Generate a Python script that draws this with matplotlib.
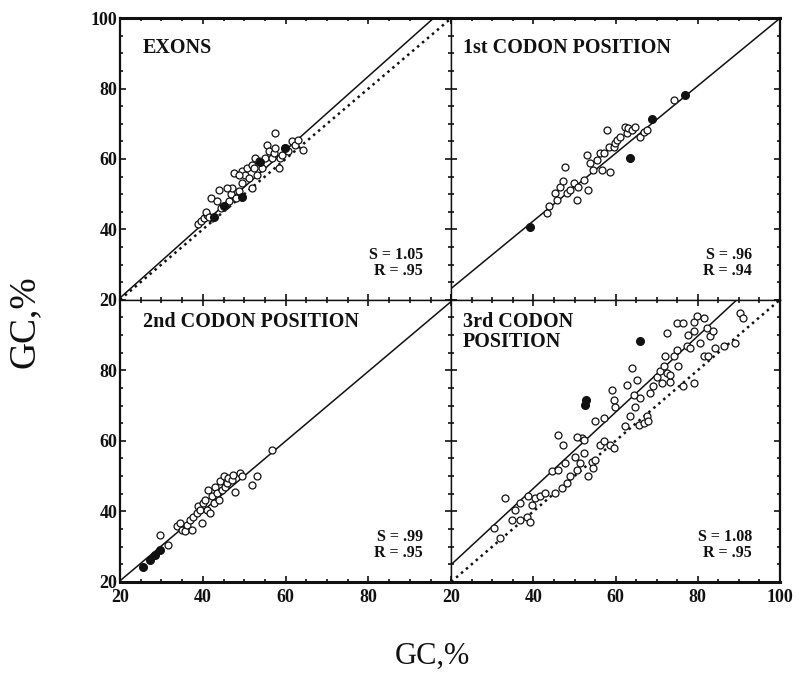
import matplotlib
matplotlib.use("Agg")
import matplotlib.pyplot as plt
from matplotlib.ticker import MultipleLocator
import numpy as np

# ---- data (GC %, x vs y) ----
exons_x = [38.9, 39.5, 40.3, 41.1, 40.7, 42.3, 41.9, 43.9, 44.3, 45.5, 46.3, 46.7, 47.1, 47.5,
           47.9, 48.7, 49.5, 49.5, 50.3, 50.7, 51.1, 51.9, 51.9, 52.7, 53.1, 53.5, 54.3, 55.1,
           55.5, 55.9, 56.7, 57.1, 57.5, 57.5, 58.3, 58.7, 59.1, 59.9, 60.7, 61.5, 62.3, 63.1,
           64.3, 48.7, 45.9, 43.5, 41.5, 52.3]
exons_y = [41.6, 42.5, 43.2, 44.1, 45.0, 43.2, 48.9, 51.3, 46.1, 47.0, 48.0, 49.9, 51.8, 56.0,
           48.9, 50.8, 53.2, 56.5, 55.5, 57.4, 54.6, 58.4, 51.8, 60.3, 55.5, 59.3, 57.4, 60.3,
           64.1, 62.2, 60.3, 61.7, 63.1, 67.4, 57.4, 60.3, 61.2, 63.1, 62.2, 65.0, 64.1, 65.5,
           62.6, 55.5, 51.8, 48.0, 43.6, 57.4]
exons_fx = [42.6, 45.0, 49.4, 53.8, 59.9]
exons_fy = [43.6, 46.5, 49.3, 59.2, 63.0]

pos1_x = [43.3, 43.7, 45.3, 45.7, 46.5, 47.3, 47.7, 48.1, 48.9, 49.8, 50.6, 50.9, 52.2, 53.0,
          53.4, 53.8, 54.6, 55.5, 56.3, 56.7, 57.1, 57.9, 58.3, 58.7, 59.5, 59.9, 60.3, 61.1,
          62.3, 62.7, 63.1, 63.9, 64.8, 66.0, 66.8, 67.6, 74.1]
pos1_y = [44.6, 46.5, 50.3, 48.4, 52.1, 53.6, 57.8, 50.3, 51.2, 53.1, 48.4, 52.1, 54.0, 61.1,
          51.2, 58.8, 56.9, 59.7, 61.6, 56.9, 61.6, 68.2, 63.5, 56.4, 63.5, 64.4, 65.4, 66.3,
          69.2, 67.3, 68.7, 68.2, 69.2, 66.3, 67.7, 68.2, 76.7]
pos1_fx = [39.2, 63.6, 68.8, 77.0]
pos1_fy = [40.8, 60.2, 71.3, 78.2]

pos2_x = [29.7, 31.7, 33.7, 34.5, 34.9, 35.7, 36.1, 36.9, 37.3, 37.7, 38.5, 38.9, 39.3, 39.7,
          40.1, 40.5, 41.0, 41.3, 41.8, 42.2, 42.6, 43.0, 43.4, 43.8, 44.2, 44.6, 45.0, 45.4,
          45.8, 46.2, 47.0, 47.4, 47.8, 49.0, 49.4, 51.8, 53.0, 56.7]
pos2_y = [33.3, 30.5, 35.7, 36.7, 34.8, 34.3, 36.2, 37.6, 34.8, 38.5, 39.5, 41.4, 40.4, 36.7,
          42.3, 43.3, 40.4, 46.1, 39.5, 44.2, 42.3, 47.0, 45.2, 43.3, 48.5, 46.1, 49.9, 47.0,
          48.0, 49.4, 48.9, 50.4, 45.6, 50.8, 49.9, 47.5, 49.9, 57.4]
pos2_fx = [25.6, 27.3, 28.5, 29.7]
pos2_fy = [24.3, 26.2, 27.7, 29.1]

pos3_x = [33.1, 30.3, 31.9, 34.8, 35.6, 36.8, 36.8, 38.4, 39.2, 38.8, 39.6, 40.4, 41.7, 42.9,
          44.5, 45.3, 46.1, 46.9, 47.7, 48.1, 49.0, 50.2, 50.6, 51.4, 51.8, 52.2, 53.4, 54.2,
          54.6, 55.0, 56.3, 57.1, 58.7, 59.5, 46.1, 47.3, 50.6, 52.2, 55.0, 57.1, 59.1, 59.5,
          59.9, 62.7, 64.0, 64.4, 64.8, 65.2, 66.0, 67.6, 68.4, 69.2, 70.0, 70.9, 71.3, 71.7,
          72.1, 72.5, 73.3, 74.1, 74.9, 75.3, 76.5, 79.0, 72.5, 74.9, 76.5, 79.0, 79.8, 81.4,
          77.7, 79.0, 80.6, 83.0, 82.2, 83.8, 77.3, 78.2, 81.4, 82.6, 84.2, 86.3, 89.1, 90.3,
          91.1, 65.6, 66.8, 68.0, 63.6, 62.3, 73.3]
pos3_y = [43.7, 35.2, 32.4, 37.6, 40.4, 42.3, 37.6, 38.5, 37.1, 44.2, 41.8, 43.7, 44.2, 45.2,
          51.3, 45.2, 51.8, 46.6, 53.7, 48.0, 49.9, 55.5, 51.8, 53.7, 60.8, 56.5, 49.9, 54.1,
          52.3, 54.6, 58.9, 59.8, 58.9, 57.9, 61.7, 58.9, 61.2, 60.3, 65.5, 66.4, 74.5, 71.6,
          69.7, 75.9, 80.6, 73.0, 69.7, 77.3, 72.1, 66.9, 73.5, 75.4, 78.2, 79.7, 76.4, 81.1,
          83.9, 79.2, 76.8, 83.9, 85.8, 81.1, 75.4, 76.4, 90.6, 93.4, 93.4, 93.8, 95.3, 94.8,
          90.1, 91.0, 87.7, 89.6, 92.0, 91.0, 86.8, 86.3, 83.9, 83.9, 86.3, 86.8, 87.7, 96.2,
          94.8, 64.5, 65.0, 65.5, 66.9, 64.1, 78.7]
pos3_fx = [66.0, 52.6, 52.8]
pos3_fy = [88.2, 70.2, 71.6]

titles = ["EXONS", "1st CODON POSITION", "2nd CODON POSITION", "3rd CODON\nPOSITION"]
slopes = [1.05, 0.96, 0.99, 1.08]
intercepts = [-0.5, 4.0, 0.5, 3.3]
r_values = [".95", ".94", ".95", ".95"]
s_labels = ["1.05", ".96", ".99", "1.08"]
show_diagonal = [True, False, False, True]

open_x = [exons_x, pos1_x, pos2_x, pos3_x]
open_y = [exons_y, pos1_y, pos2_y, pos3_y]
fill_x = [exons_fx, pos1_fx, pos2_fx, pos3_fx]
fill_y = [exons_fy, pos1_fy, pos2_fy, pos3_fy]

serif = ["Liberation Serif", "DejaVu Serif"]
ink = "#111111"

fig = plt.figure(figsize=(8, 6.75), dpi=100)

x0, xm, x1 = 0.150, 0.564, 0.975
y0, ym, y1 = 0.138, 0.556, 0.973
boxes = [
    [x0, ym, xm - x0, y1 - ym],
    [xm, ym, x1 - xm, y1 - ym],
    [x0, y0, xm - x0, ym - y0],
    [xm, y0, x1 - xm, ym - y0],
]

line_x = np.array([20, 100])

for i, box in enumerate(boxes):
    ax = fig.add_axes(box)
    ax.set_xlim(20, 100)
    ax.set_ylim(20, 100)

    if show_diagonal[i]:
        ax.plot(line_x, line_x, color=ink, lw=1.8, ls=(0, (1, 1.6)), zorder=2)
    ax.plot(line_x, slopes[i] * line_x + intercepts[i], color=ink, lw=1.1, zorder=2)

    ax.plot(open_x[i], open_y[i], "o", ms=5, mfc="white", mec=ink, mew=0.9, zorder=3)
    ax.plot(fill_x[i], fill_y[i], "o", ms=5.5, mfc=ink, mec=ink, zorder=4)

    ax.text(0.035 if i % 2 else 0.07, 0.93 if i < 2 else 0.955, titles[i],
            transform=ax.transAxes, ha="left", va="top", family=serif,
            fontweight="bold", fontsize=14.5, color=ink, linespacing=1.0)
    ax.text(0.915, 0.13, "S = " + s_labels[i] + "\nR = " + r_values[i],
            transform=ax.transAxes, ha="right", va="center", family=serif,
            fontweight="bold", fontsize=11.5, color=ink, linespacing=1.0)

    ax.xaxis.set_major_locator(MultipleLocator(20))
    ax.yaxis.set_major_locator(MultipleLocator(20))
    ax.xaxis.set_minor_locator(MultipleLocator(5))
    ax.yaxis.set_minor_locator(MultipleLocator(5))
    ax.tick_params(which="both", direction="in", top=True, right=True,
                   color=ink, width=1.2, labelsize=13, pad=2)
    ax.tick_params(which="major", length=4)
    ax.tick_params(which="minor", length=2.5)
    ax.tick_params(axis="x", pad=5)

    # tick labels only on the outer edges, like the original
    if i < 2:
        ax.tick_params(labelbottom=False)
    else:
        ax.set_xticks([20, 40, 60, 80, 100] if i == 3 else [20, 40, 60, 80])
    if i % 2:
        ax.tick_params(labelleft=False)
    else:
        ax.set_yticks([20, 40, 60, 80, 100] if i == 0 else [20, 40, 60, 80])
    for lab in ax.get_xticklabels() + ax.get_yticklabels():
        lab.set_family(serif)
        lab.set_fontweight("bold")
        lab.set_color(ink)

    for side, sp in ax.spines.items():
        sp.set_color(ink)
        sp.set_linewidth(1.0)
    if i < 2:
        ax.spines["top"].set_linewidth(2.2)
    else:
        ax.spines["bottom"].set_linewidth(2.2)
    if i % 2 == 0:
        ax.spines["left"].set_linewidth(1.6)
    else:
        ax.spines["right"].set_linewidth(1.6)

fig.text(0.03, 0.523, "GC,%", rotation=90, ha="center", va="center",
         family=serif, fontsize=27, color=ink)
fig.text(0.541, 0.027, "GC,%", ha="center", va="center",
         family=serif, fontsize=22, color=ink)

fig.savefig("out.png", dpi=100, facecolor="white")
